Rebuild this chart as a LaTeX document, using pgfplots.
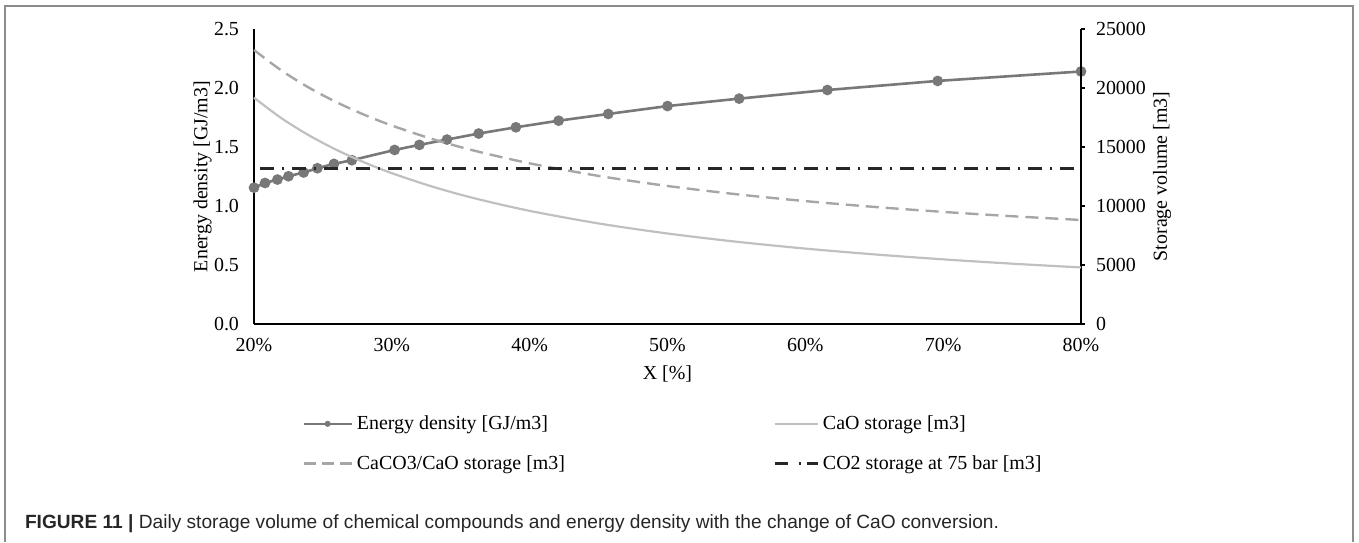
\documentclass[border=0pt]{standalone}
\usepackage{fontspec}
\setmainfont{Liberation Serif}
\newfontfamily\capfont{Liberation Sans}
\usepackage{pgfplots}
\pgfplotsset{compat=1.18}
\definecolor{edgray}{HTML}{787878}
\definecolor{caogray}{HTML}{C0C0C0}
\definecolor{caco}{HTML}{A6A6A6}
\definecolor{cotwo}{HTML}{262626}
\definecolor{framegray}{HTML}{8C8C8C}

\pgfplotsset{
  base/.style={
    at={(127bp,-162bp)}, anchor=south west,
    scale only axis, width=413.5bp, height=147.5bp,
    xmin=20, xmax=80, clip=false,
    font=\fontsize{10}{12}\selectfont,
    /pgf/number format/assume math mode=true,
  },
  edlegend/.style={
    legend image code/.code={
      \draw[edgray, line width=1.3bp] (0bp,0bp) -- (24bp,0bp);
      \fill[edgray] (12bp,0bp) circle (1.3bp);
    }
  },
  longlegend/.style={
    legend image code/.code={
      \draw[caco, line width=1.2bp, dash pattern=on 6bp off 3bp] (0bp,0bp) -- (24bp,0bp);
    }
  },
  caolegend/.style={
    legend image code/.code={
      \draw[caogray, line width=1.1bp] (0bp,0bp) -- (21.5bp,0bp);
    }
  },
  co2legend/.style={
    legend image code/.code={
      \draw[cotwo, line width=1.5bp] (0bp,0bp) -- (6.5bp,0bp);
      \draw[cotwo, line width=1.5bp] (12bp,0bp) -- (13.2bp,0bp);
      \draw[cotwo, line width=1.5bp] (16bp,0bp) -- (21.5bp,0bp);
    }
  }
}

\begin{document}
\begin{tikzpicture}
\path (0,0) rectangle (679.5bp,-270.5bp);
\draw[framegray, line width=0.8bp] (2.5bp,-271bp) -- (2.5bp,-3bp) -- (676.5bp,-3bp) -- (676.5bp,-271bp);

% left axis: energy density
\begin{axis}[base,
  ymin=0, ymax=2.5,
  axis x line*=bottom, axis y line*=left,
  axis line style={line width=1bp, black, -},
  xtick={20,30,40,50,60,70,80},
  xticklabels={20\%,30\%,40\%,50\%,60\%,70\%,80\%},
  ytick={0,0.5,...,2.5},
  yticklabel style={/pgf/number format/fixed, /pgf/number format/fixed zerofill,
    /pgf/number format/precision=1, xshift=-4bp},
  major tick length=0pt,
  xticklabel style={yshift=-3.5bp},
  xlabel={X [\%]},
  ylabel={Energy density [GJ/m3]},
  xlabel style={at={(axis description cs:0.5,-0.17)}, anchor=center},
  ylabel style={at={(axis description cs:-0.062,0.5)}, anchor=center},
]
\addplot[edgray, line width=1.3bp, mark=*, mark size=2bp] coordinates {
(20,1.155) (20.8,1.195) (21.7,1.224) (22.5,1.252) (23.6,1.284) (24.6,1.320)
(25.8,1.357) (27.1,1.388) (30.2,1.475) (32.0,1.518) (34.0,1.563) (36.3,1.614)
(39.0,1.667) (42.1,1.723) (45.7,1.780) (50.0,1.847) (55.2,1.910) (61.6,1.983)
(69.6,2.060) (80.0,2.140)
};
\end{axis}

% right axis: storage volume
\begin{axis}[base,
  ymin=0, ymax=25000,
  axis x line=none, axis y line*=right,
  axis line style={line width=0.6bp, black, -},
  ytick={0,5000,...,25000},
  scaled y ticks=false,
  yticklabel style={/pgf/number format/1000 sep={}, xshift=2bp},
  tick align=outside, major tick length=2bp,
  tick style={line width=0.6bp, black},
  ylabel={Storage volume [m3]},
  ylabel style={at={(axis description cs:1.098,0.5)}, anchor=center},
  legend columns=2,
  legend cell align=left,
  legend style={at={(axis description cs:0.058,-0.295)}, anchor=north west,
    draw=none, fill=none, inner sep=0pt,
    font=\fontsize{10}{12}\selectfont,
    /tikz/every even column/.append style={column sep=102bp},
    row sep=7.5bp},
]
\addlegendimage{edlegend}
\addlegendentry{Energy density [GJ/m3]}
\addplot[caogray, line width=1.1bp, smooth, caolegend] coordinates {
(20,19175) (22,17432) (24,15979) (26,14750) (28,13696) (30,12783) (33,11621)
(36,10653) (40,9588) (45,8522) (50,7670) (55,6973) (60,6392) (65,5900)
(70,5479) (75,5113) (80,4794)
};
\addlegendentry{CaO storage [m3]}
\addplot[caco, line width=1.2bp, dash pattern=on 6.5bp off 3.5bp, smooth, longlegend] coordinates {
(20,23222) (22,21476) (24,20020) (26,18789) (28,17733) (30,16819) (33,15654)
(36,14684) (40,13617) (45,12550) (50,11696) (55,10997) (60,10415) (65,9923)
(70,9500) (75,9135) (80,8815)
};
\addlegendentry{CaCO3/CaO storage [m3]}
\addplot[cotwo, line width=1.5bp, dash pattern=on 7bp off 4bp on 1bp off 4bp, co2legend] coordinates {
(20.4,13150) (80,13150)
};
\addlegendentry{CO2 storage at 75 bar [m3]}
\end{axis}

\node[anchor=base west, font=\capfont\fontsize{9.6}{11}\selectfont, text=black!85] at (9bp,-264bp)
  {\textbf{FIGURE 11 |} Daily storage volume of chemical compounds and energy density with the change of CaO conversion.};
\end{tikzpicture}
\end{document}
